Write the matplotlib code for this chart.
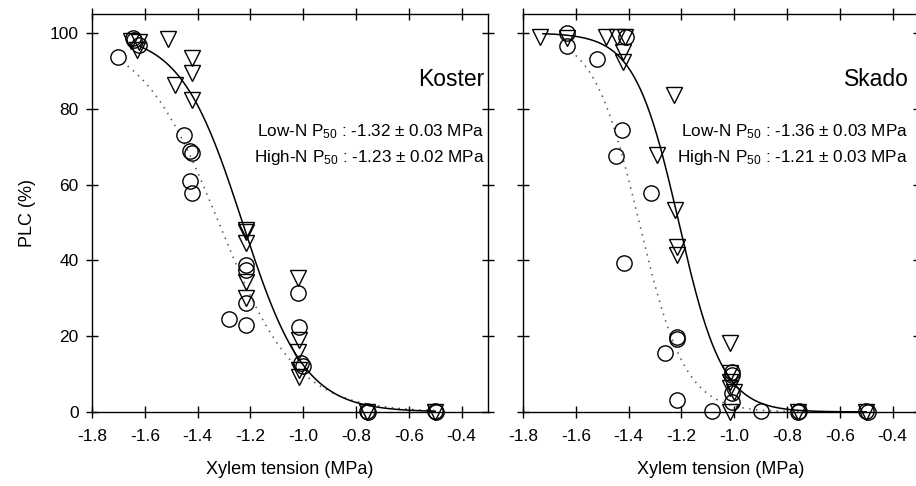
import numpy as np
import matplotlib
matplotlib.use("Agg")
import matplotlib.pyplot as plt

plt.rcParams['font.family'] = ['Liberation Sans', 'DejaVu Sans']
plt.rcParams['mathtext.fontset'] = 'custom'
plt.rcParams['mathtext.rm'] = 'Liberation Sans'
plt.rcParams['mathtext.default'] = 'regular'

# Koster data: low-N (circles), high-N (triangles)
kos_low_x = [-1.70, -1.645, -1.64, -1.62, -1.453, -1.43, -1.42, -1.43, -1.42,
             -1.215, -1.215, -1.215, -1.28, -1.215, -1.02, -1.015, -1.01, -1.0,
             -0.76, -0.755, -0.5, -0.495]
kos_low_y = [93.7, 98.7, 98.2, 96.8, 73.1, 68.9, 68.3, 61.0, 57.8,
             38.8, 37.5, 28.8, 24.5, 23.0, 31.4, 22.4, 12.9, 12.2,
             0.3, 0.0, 0.3, 0.0]
kos_high_x = [-1.653, -1.63, -1.62, -1.513, -1.42, -1.42, -1.487, -1.42,
              -1.215, -1.215, -1.215, -1.215, -1.215,
              -1.02, -1.015, -1.02, -1.015, -1.015, -0.76, -0.5]
kos_high_y = [97.9, 95.5, 97.6, 98.4, 93.4, 89.4, 86.3, 82.3,
              48.0, 47.5, 44.6, 34.3, 30.1,
              35.4, 19.0, 15.8, 9.2, 11.0, 0.0, 0.0]

# Skado data
ska_low_x = [-1.634, -1.634, -1.52, -1.41, -1.426, -1.449, -1.317, -1.419,
             -1.215, -1.215, -1.264, -1.215, -1.083, -1.01, -1.01, -1.01, -1.01,
             -0.898, -0.755, -0.76, -0.5, -0.495]
ska_low_y = [100.0, 96.6, 93.1, 99.0, 74.4, 67.5, 57.8, 39.3,
             19.8, 19.3, 15.6, 3.2, 0.3, 10.6, 9.8, 5.0, 2.6,
             0.3, 0.3, 0.0, 0.3, 0.0]
ska_high_x = [-1.736, -1.634, -1.487, -1.445, -1.415, -1.42, -1.42, -1.227, -1.294,
              -1.223, -1.215, -1.215, -1.015, -1.015, -1.015, -1.015, -1.0, -1.015,
              -0.76, -0.5]
ska_high_y = [99.0, 98.7, 99.0, 99.0, 99.0, 95.0, 92.4, 83.6, 67.8,
              53.3, 43.5, 41.4, 18.2, 10.3, 7.9, 6.3, 5.3, 0.0,
              0.0, 0.0]

# fitted sigmoid parameters (P50, slope, start of curve)
kos_low_fit = (-1.32, 6.8, -1.665)
kos_high_fit = (-1.23, 8.5, -1.62)
ska_low_fit = (-1.36, 11.5, -1.60)
ska_high_fit = (-1.21, 12.0, -1.725)

panels = [
    ("Koster", kos_low_x, kos_low_y, kos_high_x, kos_high_y, kos_low_fit, kos_high_fit,
     ["Low-N P$_{50}$ : -1.32 ± 0.03 MPa", "High-N P$_{50}$ : -1.23 ± 0.02 MPa"], -0.313),
    ("Skado", ska_low_x, ska_low_y, ska_high_x, ska_high_y, ska_low_fit, ska_high_fit,
     ["Low-N P$_{50}$ : -1.36 ± 0.03 MPa", "High-N P$_{50}$ : -1.21 ± 0.03 MPa"], -0.34),
]


def plc(x, p50, a):
    return 100.0 / (1.0 + np.exp(a * (x - p50)))


fig = plt.figure(figsize=(9.16, 4.86), dpi=100)
ax_l = fig.add_axes([0.1004, 0.1523, 0.4323, 0.819])
ax_r = fig.add_axes([0.5710, 0.1523, 0.4323, 0.819])

for ax, (name, lx, ly, hx, hy, lfit, hfit, texts, tx) in zip([ax_l, ax_r], panels):
    xs = np.linspace(lfit[2], -0.5, 200)
    ax.plot(xs, plc(xs, lfit[0], lfit[1]), ls=(0, (1, 3.5)), color='#555555', lw=1.1)
    xs = np.linspace(hfit[2], -0.5, 200)
    ax.plot(xs, plc(xs, hfit[0], hfit[1]), color='black', lw=1.1)
    ax.plot(lx, ly, 'o', ms=11, mfc='none', mec='black', mew=1.0, clip_on=False)
    ax.plot(hx, hy, 'v', ms=11.5, mfc='none', mec='black', mew=1.0, clip_on=False)

    ax.set_xlim(-1.8, -0.3)
    ax.set_ylim(0, 105)
    ax.set_xticks(np.arange(-1.8, -0.39, 0.2))
    ax.set_xticklabels([f"{v:.1f}" for v in np.arange(-1.8, -0.39, 0.2)])
    ax.set_yticks([0, 20, 40, 60, 80, 100])
    ax.tick_params(direction='inout', length=9, width=1, labelsize=12.5,
                   top=True, right=True)
    ax.tick_params(axis='x', pad=8)
    ax.tick_params(axis='y', pad=5)
    for sp in ax.spines.values():
        sp.set_linewidth(1)
    ax.set_xlabel("Xylem tension (MPa)", fontsize=13, labelpad=12)

    ax.text(tx, 87.6, name, fontsize=16.5, ha='right', va='center')
    ax.text(tx, 73.9, texts[0], fontsize=12.3, ha='right', va='center')
    ax.text(tx, 67.0, texts[1], fontsize=12.3, ha='right', va='center')

ax_l.set_ylabel("PLC (%)", fontsize=13, labelpad=10)
ax_r.set_yticklabels([])

fig.savefig("out.png", dpi=100)
